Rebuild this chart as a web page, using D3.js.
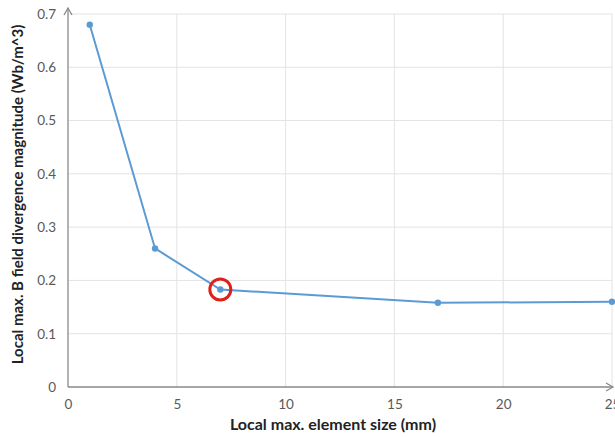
<!DOCTYPE html>
<html><head><meta charset="utf-8">
<script src="https://cdn.jsdelivr.net/npm/d3@7"></script>
<style>body{margin:0;background:#fff}svg{display:block}</style>
</head><body>
<script>
const xValues = [1, 4, 7, 17, 25];
const yValues = [0.68, 0.26, 0.183, 0.158, 0.16];
const xTicks = [0, 5, 10, 15, 20, 25];
const yTicks = [0, 0.1, 0.2, 0.3, 0.4, 0.5, 0.6, 0.7];
const highlightIndex = 2;
const xTitle = "Local max. element size (mm)";
const yTitle = "Local max. B field divergence magnitude (Wb/m^3)";

const W = 615, H = 437;
const m = {left: 68, right: 3, top: 14, bottom: 50};
const svg = d3.select("body").append("svg").attr("width", W).attr("height", H);
const x = d3.scaleLinear().domain([0, 25]).range([m.left, W - m.right]);
const y = d3.scaleLinear().domain([0, 0.7]).range([H - m.bottom, m.top]);
const font = "Lato, 'Open Sans', sans-serif";

// grid
svg.append("g").selectAll("line").data(yTicks.filter(d => d > 0)).join("line")
  .attr("x1", m.left).attr("x2", W - m.right)
  .attr("y1", d => y(d)).attr("y2", d => y(d))
  .attr("stroke", "#e3e3e3").attr("stroke-width", 1);
svg.append("g").selectAll("line").data(xTicks.filter(d => d > 0)).join("line")
  .attr("y1", y(0)).attr("y2", y(0.7))
  .attr("x1", d => x(d)).attr("x2", d => x(d))
  .attr("stroke", "#e3e3e3").attr("stroke-width", 1);

// axes
const xAxis = svg.append("g").attr("transform", `translate(0,${y(0)})`)
  .call(d3.axisBottom(x).tickValues(xTicks).tickSize(0).tickPadding(12).tickFormat(d3.format("d")));
const yAxis = svg.append("g").attr("transform", `translate(${m.left},0)`)
  .call(d3.axisLeft(y).tickValues(yTicks).tickSize(0).tickPadding(12).tickFormat(d => d === 0 ? "0" : d3.format(".1f")(d)));
[xAxis, yAxis].forEach(a => {
  a.select(".domain").attr("stroke", "#8a8a8a").attr("stroke-width", 1.3);
  a.selectAll("text").attr("fill", "#595959").attr("font-size", 13.5).attr("font-family", font);
});
xAxis.select(".domain").attr("d", `M${m.left},0H${W - 2}`);
yAxis.select(".domain").attr("d", `M0,${y(0)}V${y(0.7) - 6}`);
// arrows
svg.append("path").attr("d", `M${m.left - 4},${y(0.7) + 1}L${m.left},${y(0.7) - 6}L${m.left + 4},${y(0.7) + 1}`)
  .attr("fill", "none").attr("stroke", "#8a8a8a").attr("stroke-width", 1.3);
svg.append("path").attr("d", `M${W - 9},${y(0) - 4}L${W - 2},${y(0)}L${W - 9},${y(0) + 4}`)
  .attr("fill", "none").attr("stroke", "#8a8a8a").attr("stroke-width", 1.3);

// line
const pts = xValues.map((v, i) => [v, yValues[i]]);
svg.append("path").datum(pts)
  .attr("d", d3.line().x(d => x(d[0])).y(d => y(d[1])))
  .attr("fill", "none").attr("stroke", "#5b9bd5").attr("stroke-width", 2);
svg.append("g").selectAll("circle").data(pts).join("circle")
  .attr("cx", d => x(d[0])).attr("cy", d => y(d[1])).attr("r", 3.2)
  .attr("fill", "#5b9bd5");

// highlight
svg.append("circle").attr("cx", x(xValues[highlightIndex])).attr("cy", y(yValues[highlightIndex]))
  .attr("r", 10.5).attr("fill", "none").attr("stroke", "#e0201c").attr("stroke-width", 3);

// titles
svg.append("text").attr("x", 333).attr("y", 430).attr("text-anchor", "middle")
  .attr("font-family", font).attr("font-weight", "bold").attr("font-size", 16).attr("fill", "#222")
  .text(xTitle);
svg.append("text").attr("transform", `translate(23,${(y(0) + y(0.7)) / 2 - 6}) rotate(-90)`)
  .attr("text-anchor", "middle")
  .attr("font-family", font).attr("font-weight", "bold").attr("font-size", 15).attr("fill", "#222")
  .text(yTitle);
</script>
</body></html>
